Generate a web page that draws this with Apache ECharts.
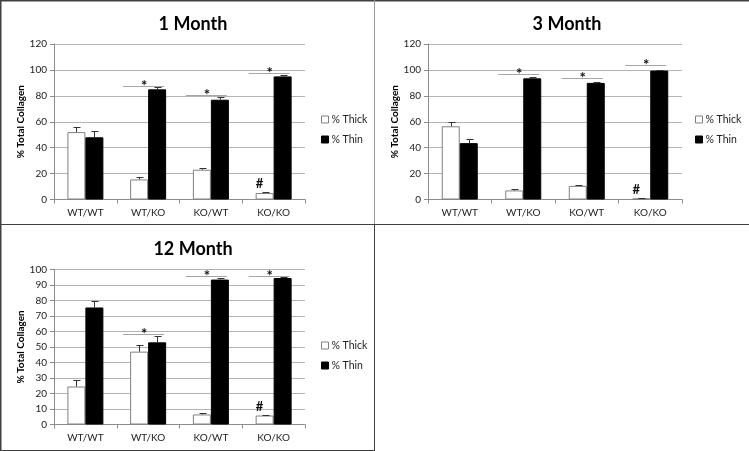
<!DOCTYPE html>
<html>
<head>
<meta charset="utf-8">
<script src="https://cdn.jsdelivr.net/npm/echarts@6/dist/echarts.min.js"></script>
<style>
html,body{margin:0;padding:0;background:#fff;}
#chart{width:749px;height:451px;}
</style>
</head>
<body>
<div id="chart"></div>
<script>
// ---- data ----
const categories = ['WT/WT', 'WT/KO', 'KO/WT', 'KO/KO'];
const panelTitles = ['1 Month', '3 Month', '12 Month'];
const seriesNames = ['% Thick', '% Thin'];
const yAxisName = '% Total Collagen';

const m1Thick = [52, 15.5, 23, 5];
const m1ThickErr = [4, 1.5, 1.5, 1];
const m1Thin = [48, 85, 77, 95];
const m1ThinErr = [4.5, 1.5, 2, 1];
const m1Sig = [null, 87.5, 81, 97.5];
const m1Hash = ['', '', '', '#'];

const m3Thick = [56.5, 7, 10.5, 0.8];
const m3ThickErr = [3.5, 1, 1, 0.3];
const m3Thin = [43.5, 93.5, 90, 99.5];
const m3ThinErr = [3, 1, 1, 0.3];
const m3Sig = [null, 97, 94, 104];
const m3Hash = ['', '', '', '#'];

const m12Thick = [24.5, 47, 6.5, 5.8];
const m12ThickErr = [4.3, 4, 1, 0.5];
const m12Thin = [75.5, 53, 93.5, 94.5];
const m12ThinErr = [4.5, 4, 1.3, 0.5];
const m12Sig = [null, 58.5, 96, 95.7];
const m12Hash = ['', '', '', '#'];

const yMax = [120, 120, 100];
const yStep = [20, 20, 10];

// ---- chart ----
const FONT = 'Lato';
const panels = [
  {thick: m1Thick, thickErr: m1ThickErr, thin: m1Thin, thinErr: m1ThinErr, sig: m1Sig, hash: m1Hash},
  {thick: m3Thick, thickErr: m3ThickErr, thin: m3Thin, thinErr: m3ThinErr, sig: m3Sig, hash: m3Hash},
  {thick: m12Thick, thickErr: m12ThickErr, thin: m12Thin, thinErr: m12ThinErr, sig: m12Sig, hash: m12Hash}
];
const grids = [
  {left: 54, top: 44, width: 251, height: 155.5},
  {left: 428, top: 44, width: 254, height: 155.5},
  {left: 54, top: 269.5, width: 251, height: 155}
];
const titlePos = [{x: 188, y: 10}, {x: 562, y: 10}, {x: 188, y: 235}];
const legendPos = [{x: 321, y: 114}, {x: 695, y: 114}, {x: 321, y: 340}];

const crisp = v => Math.round(v) + 0.5;

function errSeries(gi, means, errs, offset) {
  return {
    type: 'custom', name: 'err' + gi + offset, xAxisIndex: gi, yAxisIndex: gi, silent: true, z: 5,
    data: means.map((m, i) => [i, m, errs[i]]),
    renderItem: function (params, api) {
      const c = api.value(0), m = api.value(1), e = api.value(2);
      const p0 = api.coord([c, m]);
      const p1 = api.coord([c, m + e]);
      const x = crisp(p0[0] + offset);
      const yt = crisp(p1[1]);
      return {
        type: 'group', children: [
          {type: 'line', shape: {x1: x, y1: p0[1], x2: x, y2: yt}, style: {stroke: '#333', lineWidth: 1}},
          {type: 'line', shape: {x1: x - 3, y1: yt, x2: x + 4, y2: yt}, style: {stroke: '#333', lineWidth: 1}}
        ]
      };
    }
  };
}

function sigSeries(gi, sig) {
  const data = [];
  sig.forEach((v, i) => { if (v != null) data.push([i, v]); });
  return {
    type: 'custom', name: 'sig' + gi, xAxisIndex: gi, yAxisIndex: gi, silent: true, z: 5,
    data: data,
    renderItem: function (params, api) {
      const p = api.coord([api.value(0), api.value(1)]);
      const y = crisp(p[1]);
      return {
        type: 'group', children: [
          {type: 'line', shape: {x1: p[0] - 25, y1: y, x2: p[0] + 16, y2: y}, style: {stroke: '#a6a6a6', lineWidth: 1}},
          {type: 'text', style: {text: '*', x: p[0] - 4, y: y - 0.5, textAlign: 'center', textVerticalAlign: 'middle', font: 'bold 15px ' + FONT, fill: '#111'}}
        ]
      };
    }
  };
}

function hashSeries(gi, hash, means, errs) {
  const data = [];
  hash.forEach((h, i) => { if (h) data.push([i, means[i] + errs[i], h]); });
  return {
    type: 'custom', name: 'hash' + gi, xAxisIndex: gi, yAxisIndex: gi, silent: true, z: 5,
    data: data,
    dimensions: ['x', 'y', 'label'],
    renderItem: function (params, api) {
      const p = api.coord([api.value(0), api.value(1)]);
      const d = data[params.dataIndex];
      return {
        type: 'text', style: {text: d[2], x: p[0] - 14, y: p[1] - 8, textAlign: 'center', textVerticalAlign: 'middle', font: 'bold 13px ' + FONT, fill: '#111'}
      };
    }
  };
}

const option = {
  animation: false,
  backgroundColor: '#fff',
  textStyle: {fontFamily: FONT},
  title: panelTitles.map((t, i) => ({
    text: t, left: titlePos[i].x, top: titlePos[i].y, textAlign: 'center',
    textStyle: {fontFamily: FONT, fontWeight: 'bold', fontSize: 18, color: '#000'}
  })),
  legend: legendPos.map(p => ({
    data: seriesNames, orient: 'vertical', left: p.x, top: p.y, padding: 0,
    itemWidth: 7, itemHeight: 7, itemGap: 9, icon: 'rect', selectedMode: false,
    itemStyle: {borderWidth: 1},
    textStyle: {fontFamily: FONT, fontSize: 10.5, color: '#222', padding: [0, 0, 0, -2]}
  })),
  grid: grids.map(g => Object.assign({containLabel: false}, g)),
  xAxis: grids.map((g, i) => ({
    type: 'category', gridIndex: i, data: categories,
    axisLine: {lineStyle: {color: '#8c8c8c'}},
    axisTick: {show: true, length: 4, lineStyle: {color: '#8c8c8c'}},
    axisLabel: {fontFamily: FONT, fontSize: 10, color: '#222', margin: 8}
  })),
  yAxis: grids.map((g, i) => ({
    type: 'value', gridIndex: i, min: 0, max: yMax[i], interval: yStep[i],
    name: yAxisName, nameLocation: 'middle', nameGap: 26,
    nameTextStyle: {fontFamily: FONT, fontWeight: 'bold', fontSize: 10, color: '#000'},
    axisLine: {show: true, lineStyle: {color: '#8c8c8c'}},
    axisTick: {show: true, length: 4, lineStyle: {color: '#8c8c8c'}},
    axisLabel: {fontFamily: FONT, fontSize: 10, color: '#222', margin: 7},
    splitLine: {lineStyle: {color: '#b4b4b4'}}
  })),
  series: [],
  graphic: [
    {type: 'line', shape: {x1: 0, y1: 0.5, x2: 749, y2: 0.5}, style: {stroke: '#404040', lineWidth: 2}},
    {type: 'line', shape: {x1: 0.5, y1: 0, x2: 0.5, y2: 451}, style: {stroke: '#404040', lineWidth: 2}},
    {type: 'line', shape: {x1: 0, y1: 224.5, x2: 749, y2: 224.5}, style: {stroke: '#404040', lineWidth: 1}},
    {type: 'line', shape: {x1: 374.5, y1: 0, x2: 374.5, y2: 224}, style: {stroke: '#9a9a9a', lineWidth: 1}},
    {type: 'line', shape: {x1: 374.5, y1: 224, x2: 374.5, y2: 451}, style: {stroke: '#404040', lineWidth: 1}},
    {type: 'line', shape: {x1: 0, y1: 450.5, x2: 375, y2: 450.5}, style: {stroke: '#404040', lineWidth: 1}}
  ]
};

panels.forEach((p, i) => {
  option.series.push({
    type: 'bar', name: seriesNames[0], xAxisIndex: i, yAxisIndex: i, data: p.thick,
    barWidth: 18, barGap: '0%',
    itemStyle: {color: '#ffffff', borderColor: '#808080', borderWidth: 1}
  });
  option.series.push({
    type: 'bar', name: seriesNames[1], xAxisIndex: i, yAxisIndex: i, data: p.thin,
    barWidth: 18, barGap: '0%',
    itemStyle: {color: '#000000', borderColor: '#000000', borderWidth: 1}
  });
  option.series.push(errSeries(i, p.thick, p.thickErr, -9));
  option.series.push(errSeries(i, p.thin, p.thinErr, 9));
  option.series.push(sigSeries(i, p.sig));
  option.series.push(hashSeries(i, p.hash, p.thick, p.thickErr));
});

const chart = echarts.init(document.getElementById('chart'), null, {renderer: 'canvas'});
chart.setOption(option);
</script>
</body>
</html>
